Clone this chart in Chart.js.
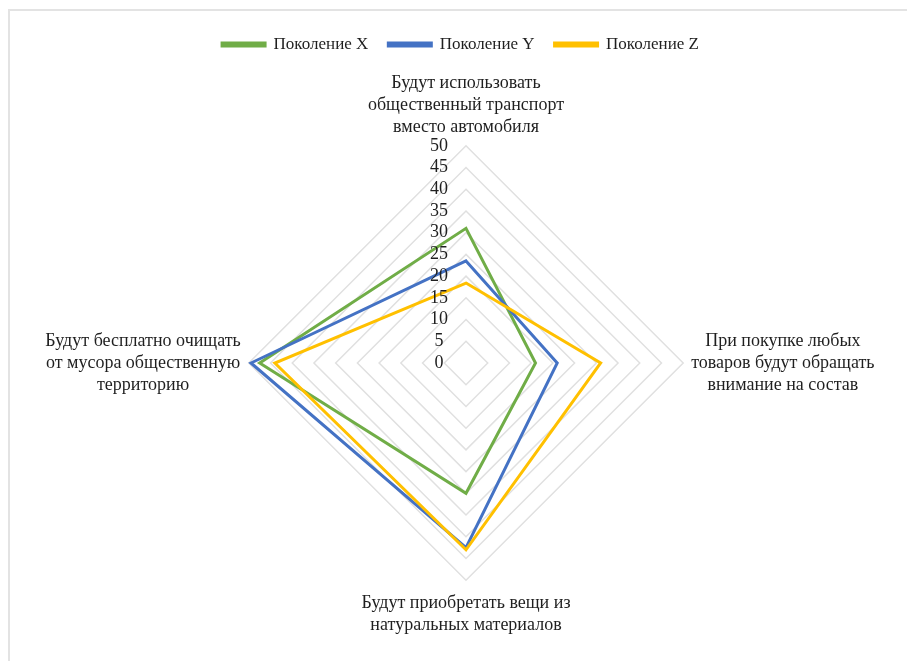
<!DOCTYPE html>
<html>
<head>
<meta charset="utf-8">
<script src="https://cdn.jsdelivr.net/npm/chart.js@4"></script>
<style>
    body { margin: 0; background: #fff; }
    #frame {
        position: absolute; left: 8px; top: 9px; width: 899px; height: 652px;
        border-top: 2px solid #e3e3e3; border-left: 2px solid #e3e3e3;
    }
    #wrap { position: absolute; left: 0; top: 0; width: 907px; height: 661px; }
</style>
</head>
<body>
<div id="frame"></div>
<div id="wrap"><canvas id="radarChart"></canvas></div>
<script>
// Подписи осей
const categories = [
    ['Будут использовать', 'общественный транспорт', 'вместо автомобиля'],
    ['При покупке любых', 'товаров будут обращать', 'внимание на состав'],
    ['Будут приобретать вещи из', 'натуральных материалов'],
    ['Будут бесплатно очищать', 'от мусора общественную', 'территорию']
];
const seriesNames = ['Поколение X', 'Поколение Y', 'Поколение Z'];
const genX = [31, 16, 30, 47.5];
const genY = [23.5, 21, 42.5, 49.5];
const genZ = [18.4, 31, 43, 44];
const tickMin = 0;
const tickMax = 50;
const tickStep = 5;

const fontFamily = '"Liberation Serif", "Times New Roman", serif';
const textColor = '#1f1f1f';

// Свои подписи: по центру блока, деления слева от оси
const labelsPlugin = {
    id: 'centeredLabels',
    afterDraw(chart) {
        const scale = chart.scales.r;
        const ctx = chart.ctx;
        ctx.save();
        ctx.fillStyle = textColor;
        ctx.font = '18px ' + fontFamily;
        ctx.textBaseline = 'middle';
        ctx.textAlign = 'center';
        const lineH = 22;
        categories.forEach((lines, i) => {
            const box = scale.getPointLabelPosition(i);
            const cx = (box.left + box.right) / 2;
            const h = lines.length * lineH;
            let top = (box.top + box.bottom) / 2 - h / 2;
            if (i === 2) top += 4; // нижняя подпись чуть ниже
            lines.forEach((line, j) => {
                ctx.fillText(line, cx, top + lineH * j + lineH / 2);
            });
        });
        scale.ticks.forEach(t => {
            const d = scale.getDistanceFromCenterForValue(t.value);
            ctx.fillText(String(t.value), scale.xCenter - 27, scale.yCenter - d);
        });
        ctx.restore();
    }
};

const ctx = document.getElementById('radarChart').getContext('2d');
new Chart(ctx, {
    type: 'radar',
    data: {
        labels: categories,
        datasets: [
            { label: seriesNames[0], data: genX, borderColor: '#70AD47', backgroundColor: '#70AD47', order: 3 },
            { label: seriesNames[1], data: genY, borderColor: '#4472C4', backgroundColor: '#4472C4', order: 2 },
            { label: seriesNames[2], data: genZ, borderColor: '#FFC000', backgroundColor: '#FFC000', order: 1 }
        ].map(ds => Object.assign(ds, {
            fill: false,
            borderWidth: 3,
            pointRadius: 0,
            pointHoverRadius: 0,
            borderJoinStyle: 'miter'
        }))
    },
    options: {
        responsive: true,
        maintainAspectRatio: false,
        animation: false,
        layout: { padding: { top: 16, left: 37, right: 23, bottom: 18 } },
        plugins: {
            legend: {
                position: 'top',
                labels: {
                    boxWidth: 43,
                    boxHeight: 3,
                    padding: 20,
                    color: textColor,
                    font: { family: fontFamily, size: 17 },
                    sort: (a, b) => a.datasetIndex - b.datasetIndex
                }
            },
            tooltip: { enabled: false }
        },
        scales: {
            r: {
                min: tickMin,
                max: tickMax,
                ticks: { stepSize: tickStep, display: false },
                angleLines: { display: false },
                grid: { color: '#e0e0e0', lineWidth: 1.5 },
                pointLabels: {
                    color: 'rgba(0,0,0,0)',
                    padding: 8,
                    font: { family: fontFamily, size: 18 }
                }
            }
        }
    },
    plugins: [labelsPlugin]
});
</script>
</body>
</html>
